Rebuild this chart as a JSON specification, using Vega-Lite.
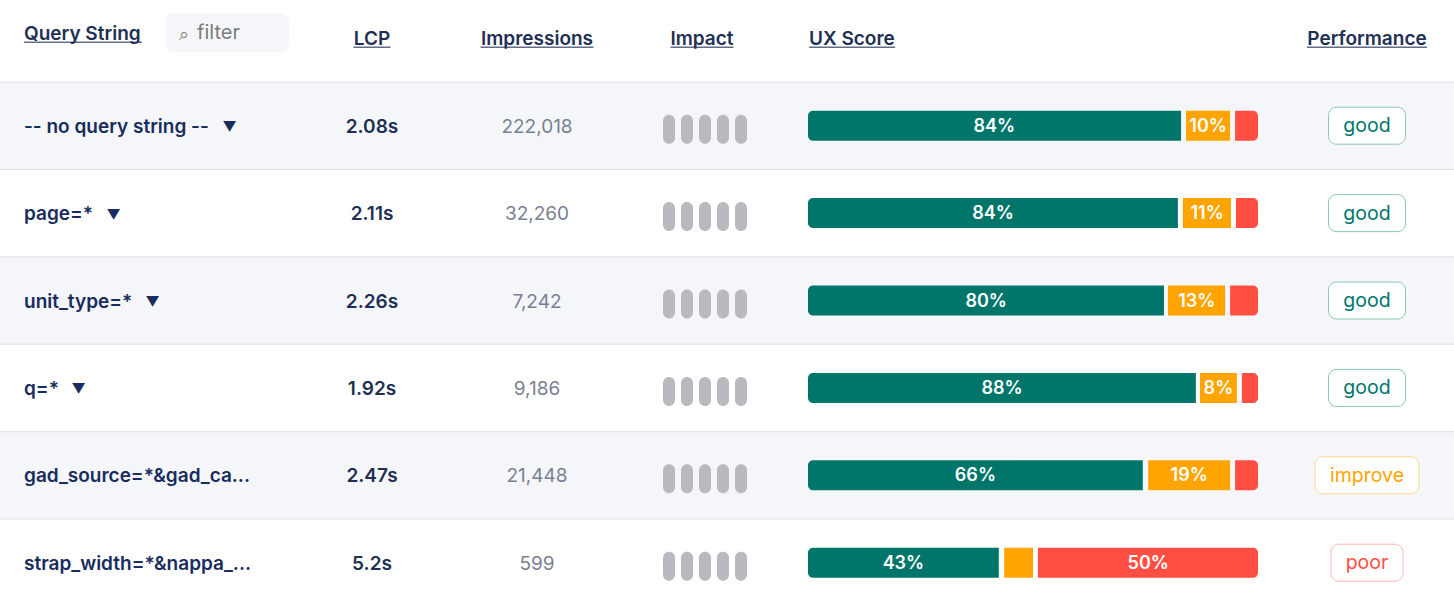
{
  "$schema": "https://vega.github.io/schema/vega-lite/v6.json",
  "padding": 0,
  "spacing": 0,
  "background": "white",
  "config": {
    "view": {"stroke": null},
    "text": {"font": "Inter", "fontSize": 19, "fontWeight": 600, "color": "#212f54", "dy": 1},
    "tick": {"color": "#212f54"}
  },
  "datasets": {
    "rows": [
      {"query": "-- no query string --", "arrow": 229.5, "lcp": "2.08s", "impressions": 222018, "performance": "good", "pills": [1, 2, 3, 4, 5]},
      {"query": "page=*", "arrow": 113.5, "lcp": "2.11s", "impressions": 32260, "performance": "good", "pills": [1, 2, 3, 4, 5]},
      {"query": "unit_type=*", "arrow": 152.5, "lcp": "2.26s", "impressions": 7242, "performance": "good", "pills": [1, 2, 3, 4, 5]},
      {"query": "q=*", "arrow": 78.5, "lcp": "1.92s", "impressions": 9186, "performance": "good", "pills": [1, 2, 3, 4, 5]},
      {"query": "gad_source=*&gad_ca...", "lcp": "2.47s", "impressions": 21448, "performance": "improve", "pills": [1, 2, 3, 4, 5]},
      {"query": "strap_width=*&nappa_...", "lcp": "5.2s", "impressions": 599, "performance": "poor", "pills": [1, 2, 3, 4, 5]}
    ],
    "stripes": [
      {"query": "-- no query string --"},
      {"query": "unit_type=*"},
      {"query": "gad_source=*&gad_ca..."}
    ],
    "ux": [
      {"query": "-- no query string --", "rating": "good", "start": 0, "end": 82.9, "mid": 41.4, "label": "84%"},
      {"query": "-- no query string --", "rating": "ni", "start": 84, "end": 93.8, "mid": 88.9, "label": "10%"},
      {"query": "-- no query string --", "rating": "poor", "start": 94.9, "end": 100, "mid": 97.4, "label": ""},
      {"query": "page=*", "rating": "good", "start": 0, "end": 82.2, "mid": 41.1, "label": "84%"},
      {"query": "page=*", "rating": "ni", "start": 83.3, "end": 94, "mid": 88.7, "label": "11%"},
      {"query": "page=*", "rating": "poor", "start": 95.1, "end": 100, "mid": 97.5, "label": ""},
      {"query": "unit_type=*", "rating": "good", "start": 0, "end": 79.1, "mid": 39.6, "label": "80%"},
      {"query": "unit_type=*", "rating": "ni", "start": 80, "end": 92.7, "mid": 86.4, "label": "13%"},
      {"query": "unit_type=*", "rating": "poor", "start": 93.8, "end": 100, "mid": 96.9, "label": ""},
      {"query": "q=*", "rating": "good", "start": 0, "end": 86.2, "mid": 43.1, "label": "88%"},
      {"query": "q=*", "rating": "ni", "start": 87.1, "end": 95.3, "mid": 91.2, "label": "8%"},
      {"query": "q=*", "rating": "poor", "start": 96.4, "end": 100, "mid": 98.2, "label": ""},
      {"query": "gad_source=*&gad_ca...", "rating": "good", "start": 0, "end": 74.4, "mid": 37.2, "label": "66%"},
      {"query": "gad_source=*&gad_ca...", "rating": "ni", "start": 75.6, "end": 93.8, "mid": 84.7, "label": "19%"},
      {"query": "gad_source=*&gad_ca...", "rating": "poor", "start": 94.9, "end": 100, "mid": 97.4, "label": ""},
      {"query": "strap_width=*&nappa_...", "rating": "good", "start": 0, "end": 42.4, "mid": 21.2, "label": "43%"},
      {"query": "strap_width=*&nappa_...", "rating": "ni", "start": 43.6, "end": 50, "mid": 46.8, "label": ""},
      {"query": "strap_width=*&nappa_...", "rating": "poor", "start": 51.1, "end": 100, "mid": 75.6, "label": "50%"}
    ]
  },
  "hconcat": [
    {
      "width": 300,
      "height": 593,
      "encoding": {
        "y": {"field": "query", "type": "nominal", "axis": null, "scale": {"type": "band", "domain": ["header", "-- no query string --", "page=*", "unit_type=*", "q=*", "gad_source=*&gad_ca...", "strap_width=*&nappa_..."], "range": [-5.4, 606.4], "paddingInner": 0, "paddingOuter": 0}}
      },
      "layer": [
        {"data": {"name": "stripes"}, "mark": {"type": "rect", "color": "#f5f6fa"}},
        {"data": {"name": "rows"}, "mark": {"type": "rule", "color": "#e1e3ea", "strokeWidth": 1.2, "clip": true}, "encoding": {"y": {"field": "query", "type": "nominal", "bandPosition": 0}}},
        {
          "data": {"name": "rows"},
          "mark": {"type": "text", "align": "left", "color": "#192c5e"},
          "encoding": {
            "x": {"datum": 24, "type": "quantitative", "axis": null, "scale": {"domain": [0, 300], "range": [0, 300]}},
            "text": {"field": "query"}
          }
        },
        {
          "data": {"name": "rows"},
          "transform": [{"filter": "isValid(datum.arrow)"}],
          "mark": {"type": "text", "fontSize": 14, "fontWeight": 400, "color": "#192c5e", "yOffset": 1.5},
          "encoding": {"x": {"field": "arrow", "type": "quantitative"}, "text": {"value": "▼"}}
        },
        {
          "data": {"values": [{"query": "header", "title": "Query String"}]},
          "mark": {"type": "text", "align": "left", "yOffset": -5},
          "encoding": {"x": {"datum": 24, "type": "quantitative"}, "text": {"field": "title"}}
        },
        {
          "data": {"values": [{"query": "header"}]},
          "mark": {"type": "tick", "orient": "horizontal", "size": 118, "thickness": 1.5, "yOffset": 4},
          "encoding": {"x": {"datum": 83, "type": "quantitative"}}
        },
        {
          "data": {"values": [{"query": "header"}]},
          "mark": {"type": "bar", "height": 39, "color": "#f5f6fa", "cornerRadius": 8, "yOffset": -5.5},
          "encoding": {"x": {"datum": 166, "type": "quantitative"}, "x2": {"datum": 289}}
        },
        {
          "data": {"values": [{"query": "header", "hint": "filter"}]},
          "mark": {"type": "text", "align": "left", "yOffset": -6, "fontSize": 20, "fontWeight": 400, "color": "#7b7b7b"},
          "encoding": {"x": {"datum": 197, "type": "quantitative"}, "text": {"field": "hint"}}
        },
        {
          "data": {"values": [{"query": "header", "icon": "⌕"}]},
          "mark": {"type": "text", "align": "left", "yOffset": -4, "fontSize": 18, "fontWeight": 400, "color": "#7b7b7b"},
          "encoding": {"x": {"datum": 179, "type": "quantitative"}, "text": {"field": "icon"}}
        }
      ]
    },
    {
      "width": 144,
      "height": 593,
      "encoding": {
        "y": {"field": "query", "type": "nominal", "axis": null, "scale": {"type": "band", "domain": ["header", "-- no query string --", "page=*", "unit_type=*", "q=*", "gad_source=*&gad_ca...", "strap_width=*&nappa_..."], "range": [-5.4, 606.4], "paddingInner": 0, "paddingOuter": 0}}
      },
      "layer": [
        {"data": {"name": "stripes"}, "mark": {"type": "rect", "color": "#f5f6fa"}},
        {"data": {"name": "rows"}, "mark": {"type": "rule", "color": "#e1e3ea", "strokeWidth": 1.2, "clip": true}, "encoding": {"y": {"field": "query", "type": "nominal", "bandPosition": 0}}},
        {"data": {"name": "rows"}, "mark": {"type": "text"}, "encoding": {"text": {"field": "lcp"}}},
        {"data": {"values": [{"query": "header", "title": "LCP"}]}, "mark": {"type": "text"}, "encoding": {"text": {"field": "title"}}},
        {"data": {"values": [{"query": "header"}]}, "mark": {"type": "tick", "orient": "horizontal", "size": 37, "thickness": 1.5, "yOffset": 9}}
      ]
    },
    {
      "width": 186,
      "height": 593,
      "encoding": {
        "y": {"field": "query", "type": "nominal", "axis": null, "scale": {"type": "band", "domain": ["header", "-- no query string --", "page=*", "unit_type=*", "q=*", "gad_source=*&gad_ca...", "strap_width=*&nappa_..."], "range": [-5.4, 606.4], "paddingInner": 0, "paddingOuter": 0}}
      },
      "layer": [
        {"data": {"name": "stripes"}, "mark": {"type": "rect", "color": "#f5f6fa"}},
        {"data": {"name": "rows"}, "mark": {"type": "rule", "color": "#e1e3ea", "strokeWidth": 1.2, "clip": true}, "encoding": {"y": {"field": "query", "type": "nominal", "bandPosition": 0}}},
        {"data": {"name": "rows"}, "mark": {"type": "text", "fontWeight": 400, "color": "#7a7f93"}, "encoding": {"text": {"field": "impressions", "type": "quantitative", "format": ","}}},
        {"data": {"values": [{"query": "header", "title": "Impressions"}]}, "mark": {"type": "text"}, "encoding": {"text": {"field": "title"}}},
        {"data": {"values": [{"query": "header"}]}, "mark": {"type": "tick", "orient": "horizontal", "size": 113, "thickness": 1.5, "yOffset": 9}}
      ]
    },
    {
      "width": 150,
      "height": 593,
      "encoding": {
        "y": {"field": "query", "type": "nominal", "axis": null, "scale": {"type": "band", "domain": ["header", "-- no query string --", "page=*", "unit_type=*", "q=*", "gad_source=*&gad_ca...", "strap_width=*&nappa_..."], "range": [-5.4, 606.4], "paddingInner": 0, "paddingOuter": 0}}
      },
      "layer": [
        {"data": {"name": "stripes"}, "mark": {"type": "rect", "color": "#f5f6fa"}},
        {"data": {"name": "rows"}, "mark": {"type": "rule", "color": "#e1e3ea", "strokeWidth": 1.2, "clip": true}, "encoding": {"y": {"field": "query", "type": "nominal", "bandPosition": 0}}},
        {
          "data": {"name": "rows"},
          "transform": [{"flatten": ["pills"]}],
          "mark": {"type": "bar", "width": 12, "height": 29, "cornerRadius": 6, "yOffset": 3.5, "color": "#b9bac0"},
          "encoding": {"x": {"field": "pills", "type": "ordinal", "axis": null, "scale": {"type": "point", "padding": 0, "domain": [1, 2, 3, 4, 5], "range": [39, 111]}}}
        },
        {"data": {"values": [{"query": "header", "title": "Impact"}]}, "mark": {"type": "text", "xOffset": -3}, "encoding": {"text": {"field": "title"}}},
        {"data": {"values": [{"query": "header"}]}, "mark": {"type": "tick", "orient": "horizontal", "size": 63, "thickness": 1.5, "yOffset": 9, "xOffset": -3}}
      ]
    },
    {
      "width": 500,
      "height": 593,
      "encoding": {
        "y": {"field": "query", "type": "nominal", "axis": null, "scale": {"type": "band", "domain": ["header", "-- no query string --", "page=*", "unit_type=*", "q=*", "gad_source=*&gad_ca...", "strap_width=*&nappa_..."], "range": [-5.4, 606.4], "paddingInner": 0, "paddingOuter": 0}}
      },
      "layer": [
        {"data": {"name": "stripes"}, "mark": {"type": "rect", "color": "#f5f6fa"}},
        {"data": {"name": "rows"}, "mark": {"type": "rule", "color": "#e1e3ea", "strokeWidth": 1.2, "clip": true}, "encoding": {"y": {"field": "query", "type": "nominal", "bandPosition": 0}}},
        {
          "data": {"name": "ux"},
          "transform": [{"filter": "datum.rating == 'good'"}],
          "mark": {"type": "bar", "height": 30, "color": "#00766b", "cornerRadiusTopLeft": 5, "cornerRadiusBottomLeft": 5},
          "encoding": {
            "x": {"field": "start", "type": "quantitative", "axis": null, "scale": {"domain": [0, 100], "range": [28, 478]}},
            "x2": {"field": "end"}
          }
        },
        {
          "data": {"name": "ux"},
          "transform": [{"filter": "datum.rating == 'ni'"}],
          "mark": {"type": "bar", "height": 30, "color": "#ffa400"},
          "encoding": {"x": {"field": "start", "type": "quantitative"}, "x2": {"field": "end"}}
        },
        {
          "data": {"name": "ux"},
          "transform": [{"filter": "datum.rating == 'poor'"}],
          "mark": {"type": "bar", "height": 30, "color": "#ff4e42", "cornerRadiusTopRight": 5, "cornerRadiusBottomRight": 5},
          "encoding": {"x": {"field": "start", "type": "quantitative"}, "x2": {"field": "end"}}
        },
        {
          "data": {"name": "ux"},
          "mark": {"type": "text", "color": "white", "fontSize": 18, "fontWeight": 600},
          "encoding": {"x": {"field": "mid", "type": "quantitative"}, "text": {"field": "label"}}
        },
        {
          "data": {"values": [{"query": "header", "title": "UX Score"}]},
          "mark": {"type": "text", "align": "left", "xOffset": 1},
          "encoding": {"x": {"datum": 0, "type": "quantitative"}, "text": {"field": "title"}}
        },
        {
          "data": {"values": [{"query": "header"}]},
          "mark": {"type": "tick", "orient": "horizontal", "size": 86, "thickness": 1.5, "yOffset": 9},
          "encoding": {"x": {"datum": 9.8, "type": "quantitative"}}
        }
      ]
    },
    {
      "width": 174,
      "height": 593,
      "encoding": {
        "y": {"field": "query", "type": "nominal", "axis": null, "scale": {"type": "band", "domain": ["header", "-- no query string --", "page=*", "unit_type=*", "q=*", "gad_source=*&gad_ca...", "strap_width=*&nappa_..."], "range": [-5.4, 606.4], "paddingInner": 0, "paddingOuter": 0}}
      },
      "layer": [
        {"data": {"name": "stripes"}, "mark": {"type": "rect", "color": "#f5f6fa"}},
        {"data": {"name": "rows"}, "mark": {"type": "rule", "color": "#e1e3ea", "strokeWidth": 1.2, "clip": true}, "encoding": {"y": {"field": "query", "type": "nominal", "bandPosition": 0}}},
        {
          "data": {"name": "rows"},
          "transform": [{"filter": "datum.performance == 'good'"}],
          "mark": {"type": "bar", "width": 77, "height": 37, "cornerRadius": 8, "fill": "white", "stroke": "#8cc4be", "strokeWidth": 1},
          "encoding": {"x": {"datum": "badge", "type": "nominal", "axis": null}}
        },
        {
          "data": {"name": "rows"},
          "transform": [{"filter": "datum.performance == 'improve'"}],
          "mark": {"type": "bar", "width": 104, "height": 37, "cornerRadius": 8, "fill": "white", "stroke": "#ffd98f", "strokeWidth": 1},
          "encoding": {"x": {"datum": "badge", "type": "nominal"}}
        },
        {
          "data": {"name": "rows"},
          "transform": [{"filter": "datum.performance == 'poor'"}],
          "mark": {"type": "bar", "width": 72, "height": 37, "cornerRadius": 8, "fill": "white", "stroke": "#ffb5b0", "strokeWidth": 1},
          "encoding": {"x": {"datum": "badge", "type": "nominal"}}
        },
        {
          "data": {"name": "rows"},
          "mark": {"type": "text", "fontWeight": 400, "fontSize": 19.5, "yOffset": -0.5},
          "encoding": {
            "text": {"field": "performance"},
            "color": {"field": "performance", "type": "nominal", "legend": null, "scale": {"domain": ["good", "improve", "poor"], "range": ["#00766b", "#ffa400", "#ff4e42"]}}
          }
        },
        {"data": {"values": [{"query": "header", "title": "Performance"}]}, "mark": {"type": "text"}, "encoding": {"text": {"field": "title"}}},
        {"data": {"values": [{"query": "header"}]}, "mark": {"type": "tick", "orient": "horizontal", "size": 120, "thickness": 1.5, "yOffset": 9}}
      ]
    }
  ]
}
